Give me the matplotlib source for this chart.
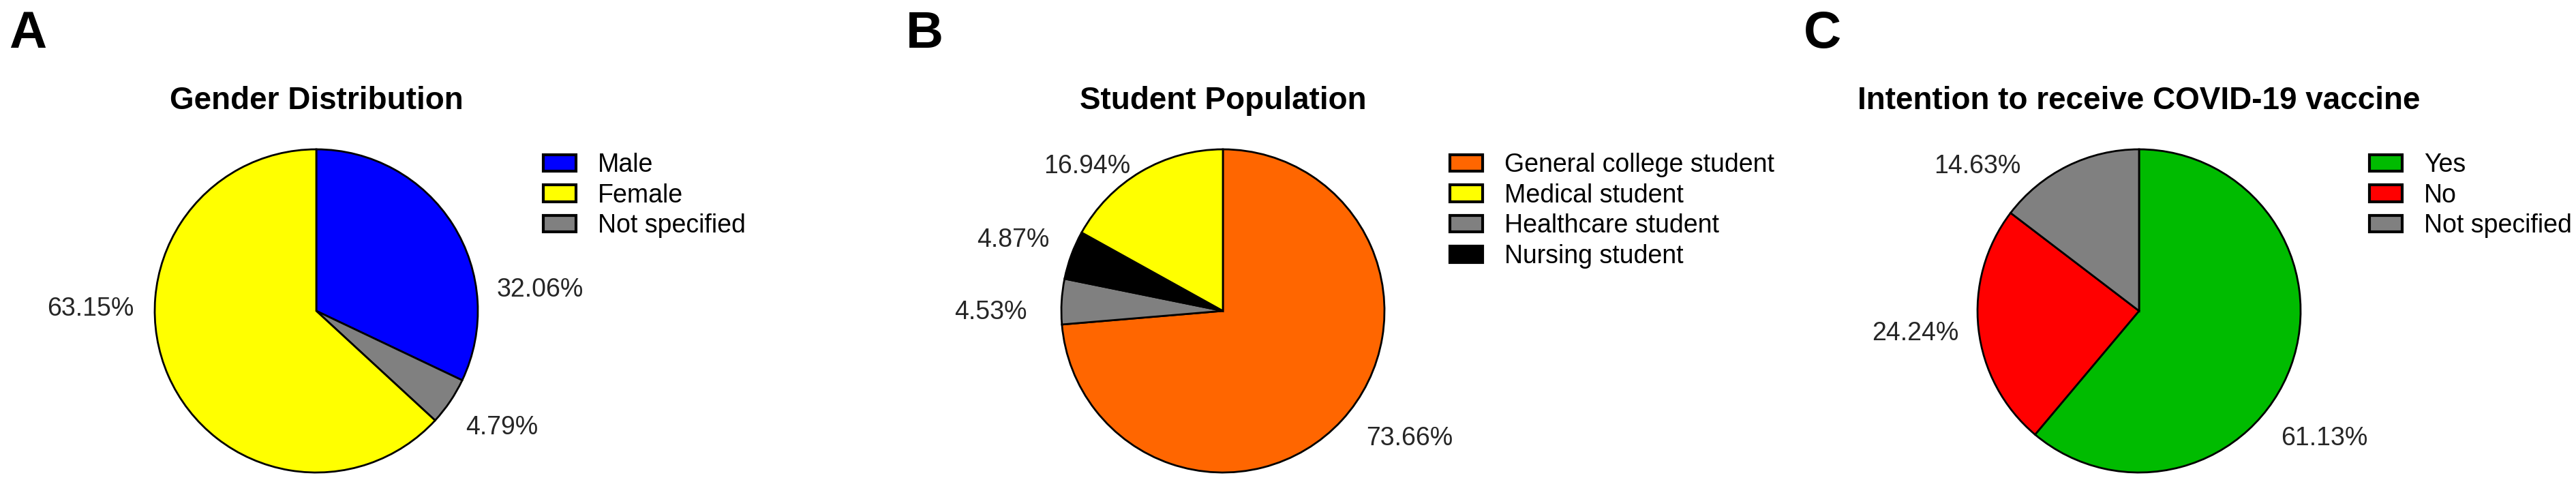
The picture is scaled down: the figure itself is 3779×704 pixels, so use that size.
import matplotlib
matplotlib.use("Agg")
import matplotlib.pyplot as plt
from matplotlib.patches import Patch

plt.rcParams['font.family'] = ['Liberation Sans', 'DejaVu Sans']

# ---- data (legend order) ----
gender_labels = ['Male', 'Female', 'Not specified']
gender_values = [32.06, 63.15, 4.79]
gender_colors = ['#0000FF', '#FFFF00', '#808080']
gender_pie_order = [0, 2, 1]

student_labels = ['General college student', 'Medical student',
                  'Healthcare student', 'Nursing student']
student_values = [73.66, 16.94, 4.53, 4.87]
student_colors = ['#FF6600', '#FFFF00', '#808080', '#000000']
student_pie_order = [0, 2, 3, 1]

vaccine_labels = ['Yes', 'No', 'Not specified']
vaccine_values = [61.13, 24.24, 14.63]
vaccine_colors = ['#00BB00', '#FF0000', '#808080']
vaccine_pie_order = [0, 1, 2]

titles = ['Gender Distribution', 'Student Population',
          'Intention to receive COVID-19 vaccine']
letters = ['A', 'B', 'C']

# ---- layout (pixels of the 3779x704 canvas, y from top) ----
W, H, DPI = 3779, 704, 100
R_PX = 237
centers = [(464, 456), (1794, 456), (3138, 456)]
letter_x = [13, 1329, 2646]
legend_x = [797, 2127, 3476]
# percent label anchors, in pie radius units, legend order
label_pos = [
    [(1.118, 0.131), (-1.127, 0.013), (0.924, -0.722)],
    [(0.886, -0.789), (-0.574, 0.895), (-1.211, -0.008), (-1.072, 0.439)],
    [(0.878, -0.789), (-1.118, -0.139), (-0.730, 0.895)],
]

panels = [
    (gender_labels, gender_values, gender_colors, gender_pie_order),
    (student_labels, student_values, student_colors, student_pie_order),
    (vaccine_labels, vaccine_values, vaccine_colors, vaccine_pie_order),
]

fig = plt.figure(figsize=(W / DPI, H / DPI), dpi=DPI)
fig.patch.set_facecolor('white')

LIM = 1.6
box = 2 * LIM * R_PX
fs_small = 27

for i, (labels, values, colors, order) in enumerate(panels):
    cx, cy = centers[i]
    ax = fig.add_axes([(cx - box / 2) / W, (H - cy - box / 2) / H, box / W, box / H])
    ax.pie([values[k] for k in order],
           colors=[colors[k] for k in order],
           startangle=90, counterclock=False, radius=1,
           wedgeprops=dict(edgecolor='black', linewidth=2.0))
    ax.set_xlim(-LIM, LIM)
    ax.set_ylim(-LIM, LIM)
    ax.set_aspect('equal')
    ax.axis('off')

    for k, v in enumerate(values):
        x, y = label_pos[i][k]
        ax.text(x, y, f'{v:.2f}%', ha='left' if x > 0 else 'right',
                va='center', fontsize=fs_small, color='#262626', clip_on=False)

    fig.text(cx / W, (H - 160) / H, titles[i], ha='center', va='baseline',
             fontsize=33, fontweight='bold')
    fig.text(letter_x[i] / W, (H - 70) / H, letters[i], ha='left', va='baseline',
             fontsize=55, fontweight='bold')

    handles = [Patch(facecolor=c, edgecolor='black', linewidth=3.0) for c in colors]
    fig.legend(handles, labels, loc='upper left',
               bbox_to_anchor=(legend_x[i] / W, (H - 224) / H),
               frameon=False, fontsize=fs_small, borderpad=0, borderaxespad=0,
               handlelength=1.28, handleheight=0.62, handletextpad=0.85,
               labelspacing=0.23)

fig.savefig('out.png', dpi=DPI, facecolor='white')
